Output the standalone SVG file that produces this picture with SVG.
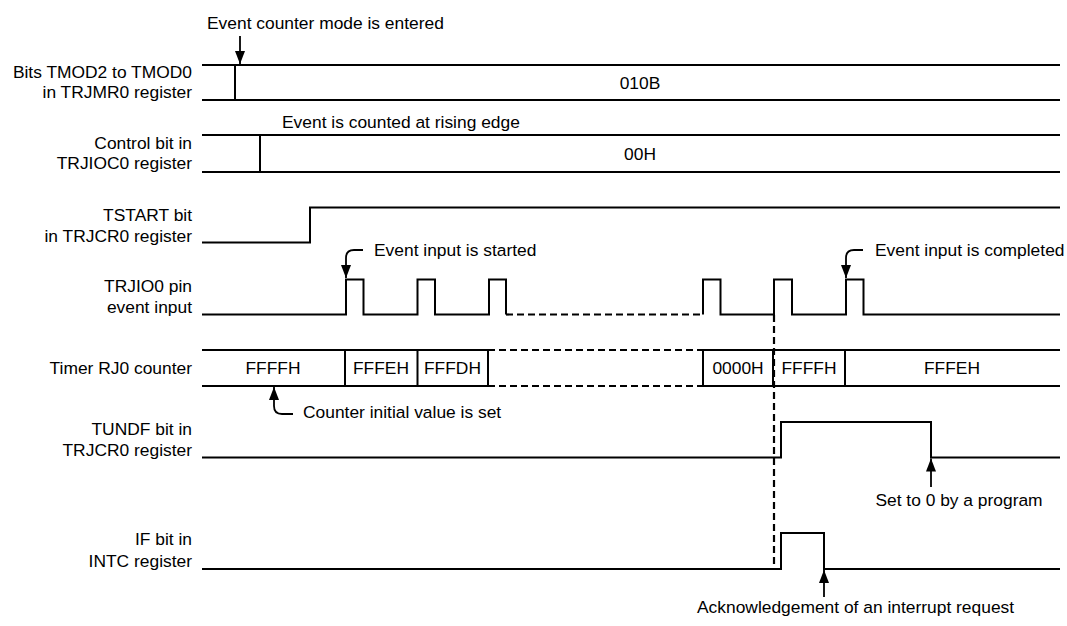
<svg xmlns="http://www.w3.org/2000/svg" width="1067" height="626" viewBox="0 0 1067 626">
<style>
text{font-family:"Liberation Sans",Arial,sans-serif;font-size:17.4px;fill:#000}
.lbl{text-anchor:end}
.mid{text-anchor:middle}
.w{fill:none;stroke:#000;stroke-width:2}
.d{fill:none;stroke:#000;stroke-width:2.2;stroke-dasharray:7,4}
.a{fill:none;stroke:#000;stroke-width:1.8}
</style>
<defs>
<marker id="ah" viewBox="0 0 13 10" refX="13" refY="5" markerWidth="13" markerHeight="10" markerUnits="userSpaceOnUse" orient="auto">
<path d="M0,0 L13,5 L0,10 z" fill="#000"/>
</marker>
</defs>
<rect width="1067" height="626" fill="#fff"/>

<g id="row-tmod">
<text class="lbl" x="192" y="78">Bits TMOD2 to TMOD0</text>
<text class="lbl" x="192" y="98">in TRJMR0 register</text>
<path class="w" d="M202,65 H1060 M202,100 H1060 M235,65 V100"/>
<text class="mid" x="640" y="88.5">010B</text>
</g>

<g id="row-trjioc">
<text class="lbl" x="192" y="149">Control bit in</text>
<text class="lbl" x="192" y="169">TRJIOC0 register</text>
<path class="w" d="M202,135 H1060 M202,172 H1060 M260,135 V172"/>
<text class="mid" x="640" y="159.5">00H</text>
</g>

<g id="row-tstart">
<text class="lbl" x="192" y="220.7">TSTART bit</text>
<text class="lbl" x="192" y="241.7">in TRJCR0 register</text>
<path class="w" d="M202,242.5 H310 V207.5 H1060"/>
</g>

<g id="row-trjio">
<text class="lbl" x="192" y="291.7">TRJIO0 pin</text>
<text class="lbl" x="192" y="312.7">event input</text>
<path class="w" d="M202,314.5 H346 V279.5 H363.5 V314.5 H417.5 V279.5 H435 V314.5 H489 V279.5 H506 V314.5"/>
<path class="d" d="M506,314.5 H703"/>
<path class="w" d="M703,314.5 V279.5 H720.5 V314.5 H774 V279.5 H792 V314.5 H846 V279.5 H863.5 V314.5 H1060"/>
</g>

<g id="row-counter">
<text class="lbl" x="192" y="374">Timer RJ0 counter</text>
<path class="w" d="M202,350 H488 M202,386 H488 M345,350 V386 M417.5,350 V386 M488,350 V386"/>
<path class="d" d="M488,350 H703 M488,386 H703"/>
<path class="w" d="M703,350 H1060 M703,386 H1060 M703,350 V386 M773,350 V386 M845,350 V386"/>
<text class="mid" x="273" y="374">FFFFH</text>
<text class="mid" x="381" y="374">FFFEH</text>
<text class="mid" x="452.5" y="374">FFFDH</text>
<text class="mid" x="738" y="374">0000H</text>
<text class="mid" x="809" y="374">FFFFH</text>
<text class="mid" x="952" y="374">FFFEH</text>
</g>

<g id="row-tundf">
<text class="lbl" x="192" y="435">TUNDF bit in</text>
<text class="lbl" x="192" y="456">TRJCR0 register</text>
<path class="w" d="M202,457.5 H781 V422 H931 V457.5 H1060"/>
</g>

<g id="row-if">
<text class="lbl" x="192" y="545">IF bit in</text>
<text class="lbl" x="192" y="566.7">INTC register</text>
<path class="w" d="M202,569 H781 V533 H824 V569 H1060"/>
</g>

<g id="connectors">
<path class="d" d="M774,315 V569"/>
<path class="a" d="M240,36 V64" marker-end="url(#ah)"/>
<path class="a" d="M363,250 H354 Q346,250 346,258 V278" marker-end="url(#ah)"/>
<path class="a" d="M863,250 H854 Q846,250 846,258 V278" marker-end="url(#ah)"/>
<path class="a" d="M293,414 H282 Q274,414 274,406 V387" marker-end="url(#ah)"/>
<path class="a" d="M931,487 V458.5" marker-end="url(#ah)"/>
<path class="a" d="M824,597 V570" marker-end="url(#ah)"/>
</g>

<g id="annotations">
<text x="207" y="29">Event counter mode is entered</text>
<text x="282" y="128">Event is counted at rising edge</text>
<text x="374" y="255.7">Event input is started</text>
<text x="875" y="255.7">Event input is completed</text>
<text x="303" y="418">Counter initial value is set</text>
<text class="mid" x="959" y="506">Set to 0 by a program</text>
<text x="697" y="613">Acknowledgement of an interrupt request</text>
</g>
</svg>
